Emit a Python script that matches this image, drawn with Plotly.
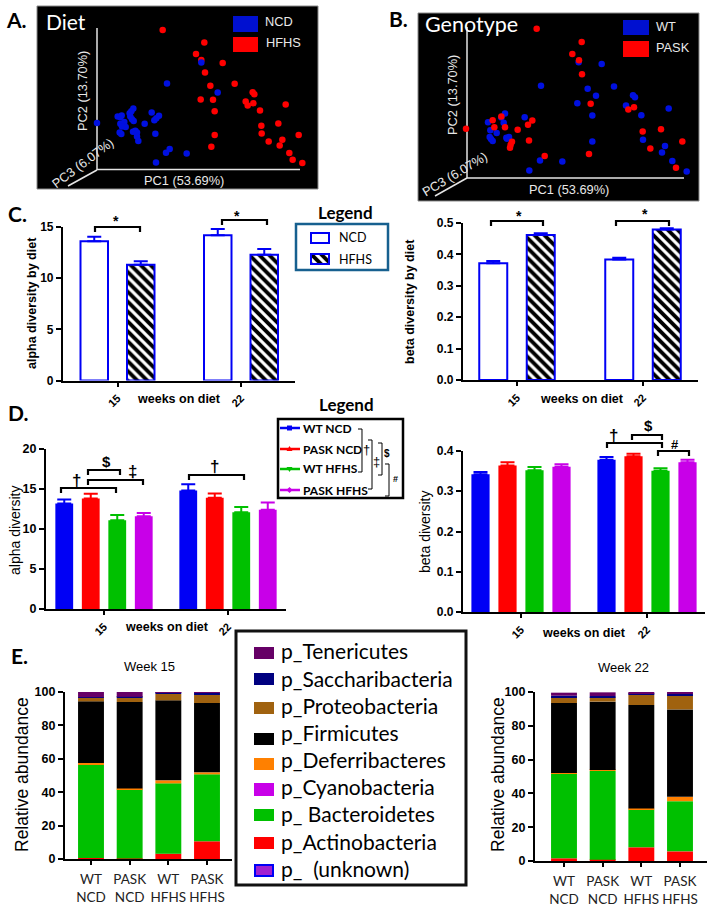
import numpy as np
import plotly.graph_objects as go

W, H = 717, 908

# ---------- data ----------
# PCoA scores (in plot units of each panel)
diet_hfhs_pc1 = [487,612,587,603,667,614,630,703,757,762,601,638,736,742,759,856,643,779,834,783,784,643,895,846,805,838,633,867,877,906]
diet_hfhs_pc2 = [90,128,162,180,189,218,258,252,277,283,299,300,305,317,310,314,334,332,371,378,401,406,406,420,425,437,441,460,480,490]
diet_ncd_pc1 = [603,500,652,454,399,393,388,390,395,400,352,364,360,476,468,462,433,360,372,376,365,405,398,410,358,363,465,410,414,508,497,559,467,290]
diet_ncd_pc2 = [188,251,278,338,326,334,340,350,358,364,350,347,352,348,355,361,372,372,367,382,380,393,396,398,398,403,402,410,424,448,459,461,488,370]
geno_pask_pc1 = [531,666,638,658,667,693,823,806,399,425,404,436,518,505,474,319,508,457,453,451,849,904,968,872,688,555,949]
geno_pask_pc2 = [85,125,161,180,222,311,321,328,360,349,381,381,361,374,389,386,421,425,434,443,394,387,424,445,462,468,503]
geno_wt_pc1 = [726,657,544,684,709,763,820,826,653,799,927,698,845,436,425,432,385,495,392,411,390,394,399,440,448,442,850,698,916,907,541,608,509,938,981]
geno_wt_pc2 = [191,186,257,266,287,259,285,291,309,316,325,346,345,340,352,368,366,351,390,399,411,417,423,413,411,416,419,424,438,457,481,484,511,483,514]

weeks = ["15", "22"]
alpha_diet_ncd = [13.6, 14.2]
alpha_diet_ncd_err = [0.45, 0.6]
alpha_diet_hfhs = [11.3, 12.3]
alpha_diet_hfhs_err = [0.35, 0.55]
beta_diet_ncd = [0.372, 0.384]
beta_diet_ncd_err = [0.007, 0.005]
beta_diet_hfhs = [0.462, 0.479]
beta_diet_hfhs_err = [0.005, 0.004]

alpha_wt_ncd = [13.2, 14.8]
alpha_wt_ncd_err = [0.5, 0.8]
alpha_pask_ncd = [13.8, 13.9]
alpha_pask_ncd_err = [0.6, 0.55]
alpha_wt_hfhs = [11.1, 12.1]
alpha_wt_hfhs_err = [0.65, 0.65]
alpha_pask_hfhs = [11.6, 12.4]
alpha_pask_hfhs_err = [0.4, 0.9]
beta_wt_ncd = [0.342, 0.378]
beta_wt_ncd_err = [0.006, 0.007]
beta_pask_ncd = [0.364, 0.387]
beta_pask_ncd_err = [0.008, 0.006]
beta_wt_hfhs = [0.352, 0.351]
beta_wt_hfhs_err = [0.008, 0.006]
beta_pask_hfhs = [0.361, 0.372]
beta_pask_hfhs_err = [0.006, 0.006]

groups = ["WT<br>NCD", "PASK<br>NCD", "WT<br>HFHS", "PASK<br>HFHS"]
phyla = ["p_Actinobacteria", "p_ Bacteroidetes", "p_Deferribacteres", "p_Firmicutes",
         "p_Proteobacteria", "p_Saccharibacteria", "p_Tenericutes"]
wk15_actino = [0.6, 0.3, 3.2, 10.6]
wk15_bacter = [55.9, 41.4, 42.1, 40.1]
wk15_deferr = [1.0, 0.5, 1.8, 1.2]
wk15_firmic = [36.9, 51.8, 47.9, 41.5]
wk15_proteo = [2.2, 2.6, 3.8, 5.2]
wk15_sacchr = [0.3, 0.5, 0.8, 1.0]
wk15_teneri = [3.1, 2.9, 0.4, 0.4]
wk22_actino = [1.6, 0.8, 8.1, 5.7]
wk22_bacter = [50.3, 52.5, 22.4, 29.7]
wk22_deferr = [0.1, 0.6, 0.6, 2.6]
wk22_firmic = [41.5, 40.4, 61.2, 51.7]
wk22_proteo = [3.5, 2.5, 6.3, 8.5]
wk22_sacchr = [0.8, 0.8, 0.8, 1.0]
wk22_teneri = [1.8, 2.2, 0.4, 0.4]

# ---------- styles ----------
BLUE, RED, GREEN, PURPLE = "#0000F5", "#FF0000", "#00C000", "#C800E8"
phylum_colors = ["#FF0000", "#00C000", "#FF8000", "#000000", "#A0620F", "#000080", "#660066"]
ARIAL, CALIBRI = "Liberation Sans", "Lato"
PATTERN = dict(shape="\\", fgcolor="black", bgcolor="white", fgopacity=1, fillmode="replace", size=7, solidity=0.55)

fig = go.Figure()
shapes, annotations, layout_axes = [], [], {}


def px(x): return x / W
def py(y): return 1 - y / H


def text(x, y, s, size=12, color="black", bold=False, font=ARIAL, angle=0, anchor="center"):
    annotations.append(dict(x=px(x), y=py(y), xref="paper", yref="paper", text=s, showarrow=False,
                            xanchor=anchor, yanchor="middle", textangle=angle,
                            font=dict(size=size, color=color, family=font, weight="bold" if bold else "normal")))


def rect(x0, y0, x1, y1, fill=None, line=None, lw=1, layer="above"):
    shapes.append(dict(type="rect", xref="paper", yref="paper", x0=px(x0), x1=px(x1), y0=py(y0), y1=py(y1),
                       fillcolor=fill or "rgba(0,0,0,0)", line=dict(color=line or "rgba(0,0,0,0)", width=lw if line else 0),
                       layer=layer))


def seg(x0, y0, x1, y1, color="black", lw=2, layer="above"):
    shapes.append(dict(type="line", xref="paper", yref="paper", x0=px(x0), x1=px(x1), y0=py(y0), y1=py(y1),
                       line=dict(color=color, width=lw), layer=layer))


def poly(points, color="black", lw=2, fill=None, closed=False):
    d = "M " + " L ".join(f"{px(a):.5f} {py(b):.5f}" for a, b in points) + (" Z" if closed else "")
    shapes.append(dict(type="path", xref="paper", yref="paper", path=d, line=dict(color=color, width=lw),
                       fillcolor=fill or "rgba(0,0,0,0)"))


def bracket(x0, x1, top, drop=5, lw=2.2):
    poly([(x0, top + drop), (x0, top), (x1, top), (x1, top + drop)], lw=lw)


def axes(n, xdom, ydom, **kw):
    sx = "" if n == 1 else str(n)
    layout_axes["xaxis" + sx] = dict(domain=[px(xdom[0]), px(xdom[1])], anchor="y" + sx, **kw.get("x", {}))
    layout_axes["yaxis" + sx] = dict(domain=[py(ydom[1]), py(ydom[0])], anchor="x" + sx, **kw.get("y", {}))
    return ("x" + sx, "y" + sx)


def pcoa_panel(n, box, xr, yr, series):
    xa, ya = axes(n, (box[0], box[2]), (box[1], box[3]),
                  x=dict(range=xr, visible=False, fixedrange=True),
                  y=dict(range=yr, visible=False, fixedrange=True))
    for xs, ys, c in series:
        fig.add_trace(go.Scatter(x=xs, y=ys, mode="markers", xaxis=xa, yaxis=ya,
                                 marker=dict(color=c, size=6.5, line=dict(width=0)), showlegend=False))


def bar_axes(n, xdom, ydom, cats, tick_px, yrange, yticks, ylabels, ysize=12, **xkw):
    spacing = (tick_px[-1] - tick_px[0]) / (len(tick_px) - 1)
    xr = [(xdom[0] - tick_px[0]) / spacing, (xdom[1] - tick_px[0]) / spacing]
    xa, ya = axes(n, xdom, ydom,
                  x=dict(type="category", categoryorder="array", categoryarray=cats, range=xr, showline=True,
                         linecolor="black", linewidth=2.2, ticks="outside", ticklen=4, tickwidth=2, tickcolor="black",
                         fixedrange=True, showgrid=False, zeroline=False, **xkw),
                  y=dict(range=yrange, tickmode="array", tickvals=yticks, ticktext=ylabels, showline=True,
                         linecolor="black", linewidth=2.2, ticks="outside", ticklen=5, tickwidth=2, tickcolor="black",
                         showgrid=False, zeroline=False, fixedrange=True,
                         tickfont=dict(size=ysize, family=ARIAL, color="black", weight="bold")))
    return xa, ya, spacing


def week_xkw():
    return dict(tickangle=-45, ticklabelstandoff=1,
                tickfont=dict(size=11, family=ARIAL, color="black", weight="bold"))


def grouped(xa, ya, spacing, series, bar_px, step_px):
    k = len(series)
    for i, s in enumerate(series):
        centre = (i - (k - 1) / 2) * step_px / spacing
        w = bar_px / spacing
        marker = dict(color=s.get("fill", s["color"]), line=dict(color=s["color"], width=s.get("lw", 0)))
        if s.get("hatch"):
            marker["color"] = "white"
            marker["pattern"] = PATTERN
        fig.add_trace(go.Bar(x=weeks, y=s["y"], xaxis=xa, yaxis=ya, width=w, offset=centre - w / 2, marker=marker,
                             showlegend=False,
                             error_y=dict(type="data", array=s["err"], arrayminus=[0] * len(s["err"]), symmetric=False,
                                          color=s["color"], thickness=2, width=7)))


def stacked(xa, ya, cols):
    arr = np.array(cols, dtype=float)
    base = np.vstack([np.zeros(arr.shape[1]), np.cumsum(arr, axis=0)[:-1]])
    for j, name in enumerate(phyla):
        fig.add_trace(go.Bar(x=groups, y=arr[j], base=base[j], xaxis=xa, yaxis=ya, width=0.67, name=name,
                             marker=dict(color=phylum_colors[j], line=dict(width=0)), showlegend=False))


LIGHT = "#e8e8e8"
# ---------- A / B ----------
rect(37, 6, 318, 189, fill="black", line="#8a8a8a", lw=1, layer="below")
seg(97, 28, 97, 170, color="#e4e4e4", lw=1.5, layer="below")
seg(97, 169.5, 300, 169.5, color="#e4e4e4", lw=1.5, layer="below")
seg(97, 170, 68, 186, color="#e4e4e4", lw=1.5, layer="below")
pcoa_panel(1, (37, 6, 318, 189), [110, 953], [568, 18],
           [(diet_hfhs_pc1, diet_hfhs_pc2, "#FF0000"), (diet_ncd_pc1, diet_ncd_pc2, "#0010E0")])
rect(233, 16, 258, 32, fill="#0010D0")
rect(233, 37, 258, 52, fill="#FF0000")
text(263, 22, "NCD", 12.8, LIGHT, anchor="left")
text(264, 43, "HFHS", 12.8, LIGHT, anchor="left")
text(44, 21, "Diet", 21, "white", font=CALIBRI, anchor="left")
text(184, 180, "PC1 (53.69%)", 12.8, LIGHT)
text(83, 91, "PC2 (13.70%)", 12.8, LIGHT, angle=-90)
text(82, 163, "PC3 (6.07%)", 12.8, LIGHT, angle=-37)

rect(418, 13, 699, 201, fill="black", line="#8a8a8a", lw=1, layer="below")
seg(467, 27, 467, 178, color="#e4e4e4", lw=1.5, layer="below")
seg(467, 178, 684, 178, color="#e4e4e4", lw=1.5, layer="below")
seg(467, 178, 435, 196, color="#e4e4e4", lw=1.5, layer="below")
pcoa_panel(2, (418, 13, 699, 201), [175, 1018], [603, 38],
           [(geno_wt_pc1, geno_wt_pc2, "#0010E0"), (geno_pask_pc1, geno_pask_pc2, "#FF0000")])
rect(623, 20, 649, 35, fill="#0010D0")
rect(623, 41, 649, 57, fill="#FF0000")
text(654, 27, "WT", 12.8, LIGHT, anchor="left")
text(654, 47, "PASK", 12.8, LIGHT, anchor="left")
text(423, 24, "Genotype", 21.5, "white", font=CALIBRI, anchor="left")
text(569, 189, "PC1 (53.69%)", 12.8, LIGHT)
text(453, 95, "PC2 (13.70%)", 12.8, LIGHT, angle=-90)
text(454, 174, "PC3 (6.07%)", 12.8, LIGHT, angle=-31)

# panel letters
for x, y, s in [(4, 20, "A."), (387, 19, "B."), (6, 214, "C."), (6, 412, "D."), (9, 655, "E.")]:
    text(x, y, s, 21, bold=True, font=CALIBRI, anchor="left")

# ---------- C ----------
xa, ya, sp = bar_axes(3, (63, 295), (227, 380.5), weeks, (117.5, 241), [0, 15], [0, 5, 10, 15],
                      ["0", "5", "10", "15"], **week_xkw())
grouped(xa, ya, sp, [dict(y=alpha_diet_ncd, err=alpha_diet_ncd_err, color=BLUE, fill="white", lw=2),
                     dict(y=alpha_diet_hfhs, err=alpha_diet_hfhs_err, color=BLUE, hatch=True, lw=2)], 27.5, 46.5)
xa, ya, sp = bar_axes(4, (463, 698), (223, 380), weeks, (517, 643), [0, 0.5], [0, 0.1, 0.2, 0.3, 0.4, 0.5],
                      ["0.0", "0.1", "0.2", "0.3", "0.4", "0.5"], **week_xkw())
grouped(xa, ya, sp, [dict(y=beta_diet_ncd, err=beta_diet_ncd_err, color=BLUE, fill="white", lw=2),
                     dict(y=beta_diet_hfhs, err=beta_diet_hfhs_err, color=BLUE, hatch=True, lw=2)], 28, 47.5)
text(32, 303, "alpha diversity by diet", 12.5, bold=True, angle=-90)
text(410, 302, "beta diversity by diet", 12.5, bold=True, angle=-90)
text(179, 399, "weeks on diet", 12.5, bold=True)
text(582, 399, "weeks on diet", 12.5, bold=True)
bracket(95, 140, 227); text(116, 221, "*", 14, bold=True)
bracket(222, 267, 220); text(237, 216, "*", 14, bold=True)
bracket(491, 543, 221); text(519, 216, "*", 14, bold=True)
bracket(616, 669, 221); text(645, 214, "*", 14, bold=True)

# C legend
text(345, 212, "Legend", 17, bold=True, font=CALIBRI)
rect(296, 224, 388, 270, line="#17608F", lw=2.5)
rect(311, 233, 329, 243, fill="white", line=BLUE, lw=2)
xa9, ya9 = axes(9, (311, 329), (254, 264),
                x=dict(type="category", visible=False, fixedrange=True, range=[-0.5, 0.5]),
                y=dict(range=[0, 1], visible=False, fixedrange=True))
fig.add_trace(go.Bar(x=["HFHS"], y=[1], xaxis=xa9, yaxis=ya9, width=1, showlegend=False,
                     marker=dict(color="white", line=dict(width=0), pattern=PATTERN)))
rect(311, 254, 329, 264, line=BLUE, lw=2)
text(337, 238, "NCD", 12.5, font=CALIBRI, anchor="left")
text(337, 259, "HFHS", 12.5, font=CALIBRI, anchor="left")

# ---------- D ----------
xa, ya, sp = bar_axes(5, (46, 286), (449, 609), weeks, (104, 228), [0, 20], [0, 5, 10, 15, 20],
                      ["0", "5", "10", "15", "20"], ysize=12.5, **week_xkw())
grouped(xa, ya, sp, [dict(y=alpha_wt_ncd, err=alpha_wt_ncd_err, color=BLUE),
                     dict(y=alpha_pask_ncd, err=alpha_pask_ncd_err, color=RED),
                     dict(y=alpha_wt_hfhs, err=alpha_wt_hfhs_err, color=GREEN),
                     dict(y=alpha_pask_hfhs, err=alpha_pask_hfhs_err, color=PURPLE)], 17.8, 26.5)
xa, ya, sp = bar_axes(6, (463, 705), (451, 612), weeks, (521, 647), [0, 0.4], [0, 0.1, 0.2, 0.3, 0.4],
                      ["0.0", "0.1", "0.2", "0.3", "0.4"], ysize=12, **week_xkw())
grouped(xa, ya, sp, [dict(y=beta_wt_ncd, err=beta_wt_ncd_err, color=BLUE),
                     dict(y=beta_pask_ncd, err=beta_pask_ncd_err, color=RED),
                     dict(y=beta_wt_hfhs, err=beta_wt_hfhs_err, color=GREEN),
                     dict(y=beta_pask_hfhs, err=beta_pask_hfhs_err, color=PURPLE)], 18.2, 27)
text(15, 530, "alpha diversity", 14, angle=-90)
text(425, 532, "beta diversity", 14, angle=-90)
text(167, 627, "weeks on diet", 12.5, bold=True)
text(584, 633, "weeks on diet", 12.5, bold=True)
bracket(61, 116, 488); text(76, 481, "†", 17, bold=True)
bracket(88, 143, 480); text(132, 471, "‡", 17, bold=True)
bracket(88, 120, 470); text(106, 462, "$", 15, bold=True)
bracket(189, 244, 475); text(214, 466, "†", 17, bold=True)
bracket(607, 662, 443); text(613, 435, "†", 17, bold=True)
bracket(632, 662, 435); text(648, 425, "$", 15, bold=True)
bracket(658, 689, 451); text(675, 444, "#", 13, bold=True)

# D legend
text(346, 404, "Legend", 17, bold=True, font=CALIBRI)
rect(278, 419, 403, 498, line="black", lw=2.5)
for y, c, s in [(428, BLUE, "WT NCD"), (449, RED, "PASK NCD"), (469, GREEN, "WT HFHS"), (490, PURPLE, "PASK HFHS")]:
    seg(280, y, 300, y, color=c, lw=2.5)
    text(301, y, s, 12, bold=True, font=CALIBRI, anchor="left")
rect(287, 425.5, 292, 430.5, fill=BLUE)
poly([(289.5, 446), (292.5, 451), (286.5, 451)], color=RED, lw=0, fill=RED, closed=True)
poly([(286.5, 467), (292.5, 467), (289.5, 472)], color=GREEN, lw=0, fill=GREEN, closed=True)
poly([(289.5, 487), (292.5, 490), (289.5, 493), (286.5, 490)], color=PURPLE, lw=0, fill=PURPLE, closed=True)
for x0, x1, y0, y1 in [(358, 362, 429, 472), (368, 372, 440, 489), (378, 382, 443, 475), (385, 389, 464, 496)]:
    poly([(x0, y0), (x1, y0), (x1, y1), (x0, y1)], lw=1)
text(367, 449, "†", 13)
text(376, 462, "‡", 13)
text(387, 453, "$", 10, bold=True)
text(395, 479, "#", 9, bold=True)

# ---------- E ----------
ekw = dict(ticklabelstandoff=3, tickfont=dict(size=13.5, family=CALIBRI, color="#222222"))
xa, ya, sp = bar_axes(7, (65, 232), (692, 859), groups, (91, 130, 168, 207), [0, 100], [0, 20, 40, 60, 80, 100],
                      ["0", "20", "40", "60", "80", "100"], ysize=12.5, **ekw)
stacked(xa, ya, [wk15_actino, wk15_bacter, wk15_deferr, wk15_firmic, wk15_proteo, wk15_sacchr, wk15_teneri])
xa, ya, sp = bar_axes(8, (535, 707), (692, 861), groups, (564, 603, 642, 680), [0, 100], [0, 20, 40, 60, 80, 100],
                      ["0", "20", "40", "60", "80", "100"], ysize=12.5, **ekw)
stacked(xa, ya, [wk22_actino, wk22_bacter, wk22_deferr, wk22_firmic, wk22_proteo, wk22_sacchr, wk22_teneri])
text(22, 775, "Relative abundance", 17.5, font=ARIAL, angle=-90)
text(498, 775, "Relative abundance", 17.5, font=ARIAL, angle=-90)
text(149, 666, "Week 15", 13)
text(623, 667, "Week 22", 13)

# E legend
rect(236, 631, 466, 885, line="#111111", lw=3)
legend_rows = [("p_Tenericutes", "#660066", 647, 659, 650), ("p_Saccharibacteria", "#000080", 673, 685, 678),
               ("p_Proteobacteria", "#A0620F", 702, 714, 705), ("p_Firmicutes", "#000000", 733, 745, 732),
               ("p_Deferribacteres", "#FF8000", 758, 770, 759), ("p_Cyanobacteria", "#C800E8", 783, 796, 786),
               ("p_ Bacteroidetes", "#00C000", 809, 821, 813), ("p_Actinobacteria", "#FF0000", 837, 849, 841)]
for s, c, y0, y1, yt in legend_rows:
    rect(254, y0, 274, y1, fill=c)
    text(279, yt, s, 21, font=CALIBRI, anchor="left")
rect(255, 865, 273, 876, fill="#A020D0", line=BLUE, lw=2)
text(279, 868, "p_  (unknown)", 21, font=CALIBRI, anchor="left")

fig.update_layout(width=W, height=H, autosize=False,
                  margin=dict(l=0, r=0, t=0, b=0, pad=0, autoexpand=False),
                  paper_bgcolor="white", plot_bgcolor="rgba(0,0,0,0)", barmode="overlay",
                  showlegend=False, shapes=shapes, annotations=annotations, **layout_axes)
fig.write_html("out.html", config=dict(displayModeBar=False),
               post_script="document.body.style.margin='0';document.body.style.overflow='hidden';")
